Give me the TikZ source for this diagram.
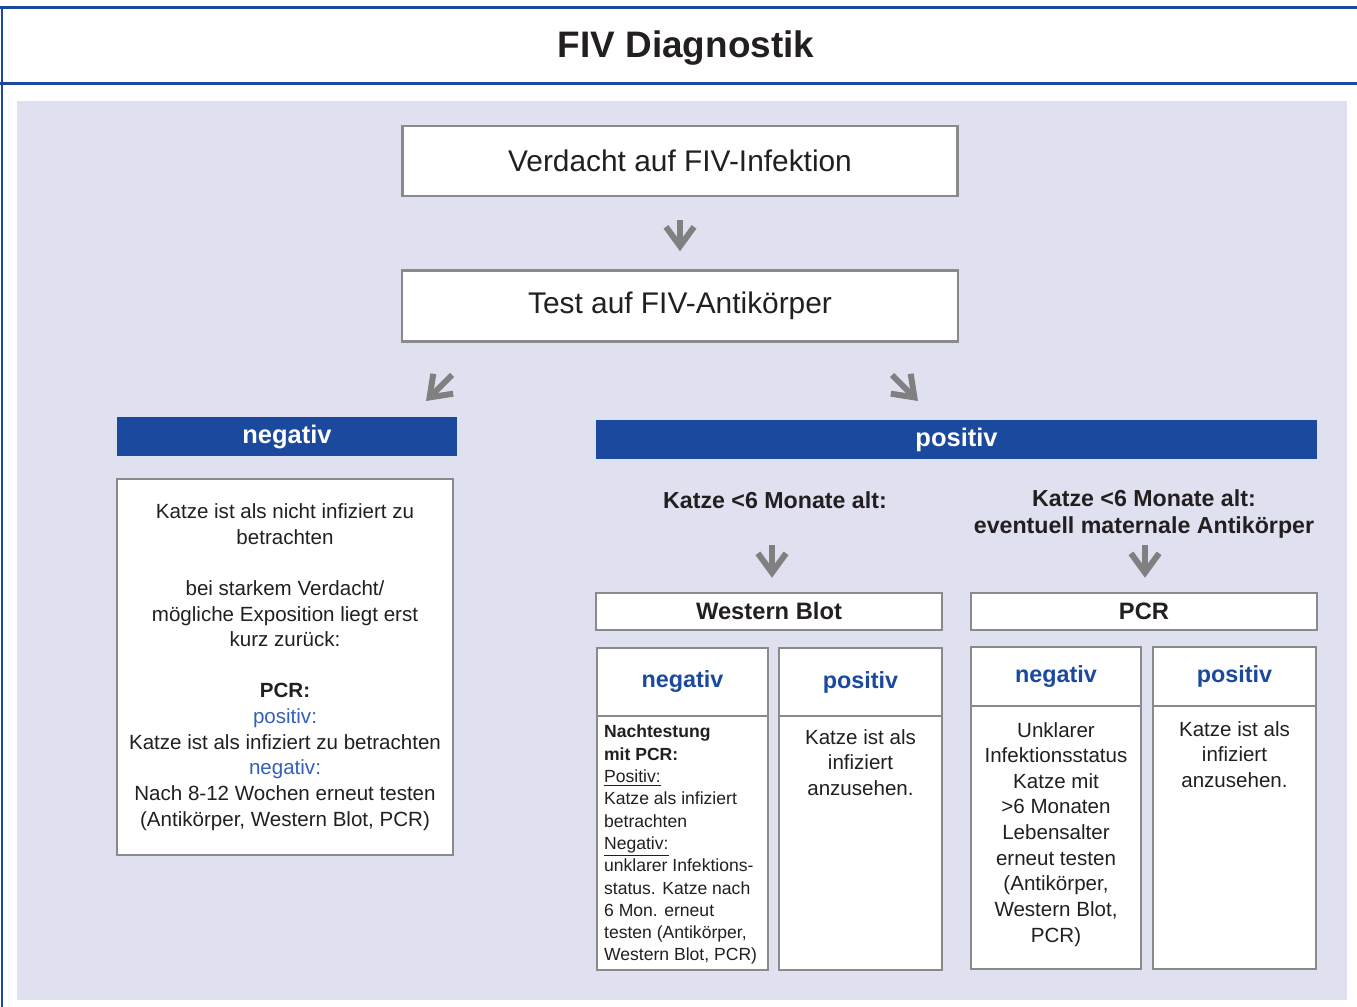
\documentclass[tikz,border=0pt]{standalone}
\usepackage{fontspec}
\setmainfont{Liberation Sans}
\usepackage{tikz}
\usetikzlibrary{arrows.meta,positioning,calc}
\definecolor{fivblue}{RGB}{26,73,158}
\definecolor{fivpale}{RGB}{223,225,240}
\definecolor{fivgray}{RGB}{138,138,138}
\definecolor{fivarrow}{RGB}{128,128,128}
\definecolor{fivlink}{RGB}{52,96,186}
\definecolor{fivtext}{RGB}{35,31,32}

\begin{document}
\begin{tikzpicture}[
  x=0.02cm, y=-0.02cm,
  every node/.style={text=fivtext},
  box/.style={draw=fivgray, line width=0.05cm, fill=white, inner sep=0pt, align=center},
  bar/.style={fill=fivblue, text=white, minimum height=0.78cm, inner sep=0pt, font=\fontsize{14.5}{17}\selectfont\bfseries},
  colhead/.style={box, text=fivblue, font=\fontsize{13.3}{16}\selectfont\bfseries},
  agetxt/.style={align=center, inner sep=0pt, font=\fontsize{13.2}{15.9}\selectfont\bfseries},
  bodytxt/.style={align=center, inner sep=0pt, font=\fontsize{11.7}{14.6}\selectfont},
  smalltxt/.style={align=left, inner sep=0pt, font=\fontsize{10}{12.7}\selectfont},
  frame/.style={draw=fivblue, line width=0.06cm},
  arr/.style={-{Straight Barb[length=11pt,width=16pt,sharp]}, line width=0.12cm, draw=fivarrow}
]
\useasboundingbox (0,0) rectangle (1357,1007);
\fill[fivpale] (17,101) rectangle (1347,1000);
\draw[frame] (0,8) -- (1357,8);
\draw[frame] (0,84) -- (1357,84);
\draw[frame] (2,8) -- (2,1007);

\node[font=\fontsize{21}{25}\selectfont\bfseries] (title) at (686,48) {FIV Diagnostik};

% top of the chart
\node[box, minimum width=11.1cm, minimum height=1.4cm, font=\fontsize{17}{20}\selectfont] (verdacht) at (680,161) {Verdacht auf FIV-Infektion};
\node[box, minimum width=11.12cm, minimum height=1.42cm, font=\fontsize{17}{20}\selectfont] (test) at (680,306) {Test auf FIV-Antikörper};
\draw[arr, shorten <=0.46cm, shorten >=0.36cm] (verdacht) -- (test);

\coordinate (negfrom) at (452,375);
\coordinate (negto) at (426,401);
\coordinate (posfrom) at (892,375);
\coordinate (posto) at (918,401);
\draw[arr] (negfrom) -- (negto);
\draw[arr] (posfrom) -- (posto);

\node[bar, minimum width=6.8cm] (negbar) at (287,436.5) {negativ};
\node[bar, minimum width=14.42cm] (posbar) at (956.5,439.5) {positiv};

% negative branch
\node[box, minimum width=6.72cm, minimum height=7.52cm, font=\fontsize{11.7}{14.6}\selectfont] (negnote) at (285,667) {Katze ist als nicht infiziert zu\\betrachten\\[14.6pt]
bei starkem Verdacht/\\mögliche Exposition liegt erst\\kurz zurück:\\[14.6pt]
\textbf{PCR:}\\{\color{fivlink}positiv:}\\Katze ist als infiziert zu betrachten\\
{\color{fivlink}negativ:}\\Nach 8-12 Wochen erneut testen\\(Antikörper, Western Blot, PCR)};

% positive branch
\node[agetxt] (wbage) at (775,500) {Katze <6 Monate alt:};
\node[agetxt] (pcrage) at (1144,514) {Katze <6 Monate alt:\\eventuell maternale Antikörper};

\node[box, minimum width=6.92cm, minimum height=0.74cm, font=\fontsize{13.5}{16}\selectfont\bfseries] (wbbox) at (769,611.5) {Western Blot};
\node[box, minimum width=6.92cm, minimum height=0.74cm, font=\fontsize{13.5}{16}\selectfont\bfseries] (pcrbox) at (1144,611.5) {PCR};

\coordinate (wbarr) at (772,545);
\coordinate (pcrarr) at (1145,545);
\draw[arr, shorten >=0.28cm] (wbarr) -- (wbarr |- wbbox.north);
\draw[arr, shorten >=0.28cm] (pcrarr) -- (pcrarr |- pcrbox.north);

\node[colhead, minimum width=3.42cm, minimum height=1.36cm] (wbneghead) at (682.5,682) {negativ};
\node[box, minimum width=3.42cm, minimum height=5.08cm] (wbnegbody) at (682.5,843) {};
\node[colhead, minimum width=3.26cm, minimum height=1.36cm] (wbposhead) at (860.5,682) {positiv};
\node[box, minimum width=3.26cm, minimum height=5.08cm] (wbposbody) at (860.5,843) {};

\node[colhead, minimum width=3.4cm, minimum height=1.18cm] (pcrneghead) at (1056,676.5) {negativ};
\node[box, minimum width=3.4cm, minimum height=5.26cm] (pcrnegbody) at (1056,837.5) {};
\node[colhead, minimum width=3.26cm, minimum height=1.18cm] (pcrposhead) at (1234.5,676.5) {positiv};
\node[box, minimum width=3.26cm, minimum height=5.26cm] (pcrposbody) at (1234.5,837.5) {};

\node[smalltxt, anchor=north west] (wbnegtxt) at ($(wbnegbody.north west)+(8,10)$) {\textbf{Nachtestung}\\\textbf{mit PCR:}\\\underline{Positiv:}\\Katze als infiziert\\betrachten\\\underline{Negativ:}\\unklarer Infektions-\\status. Katze nach\\6 Mon. erneut\\testen (Antikörper,\\Western Blot, PCR)};
\node[bodytxt, anchor=north] (wbpostxt) at ($(wbposbody.north)+(0,14)$) {Katze ist als\\infiziert\\anzusehen.};
\node[bodytxt, anchor=north] (pcrnegtxt) at ($(pcrnegbody.north)+(0,17)$) {Unklarer\\Infektionsstatus\\Katze mit\\>6 Monaten\\Lebensalter\\erneut testen\\(Antikörper,\\Western Blot,\\PCR)};
\node[bodytxt, anchor=north] (pcrpostxt) at ($(pcrposbody.north)+(0,16)$) {Katze ist als\\infiziert\\anzusehen.};
\end{tikzpicture}
\end{document}
